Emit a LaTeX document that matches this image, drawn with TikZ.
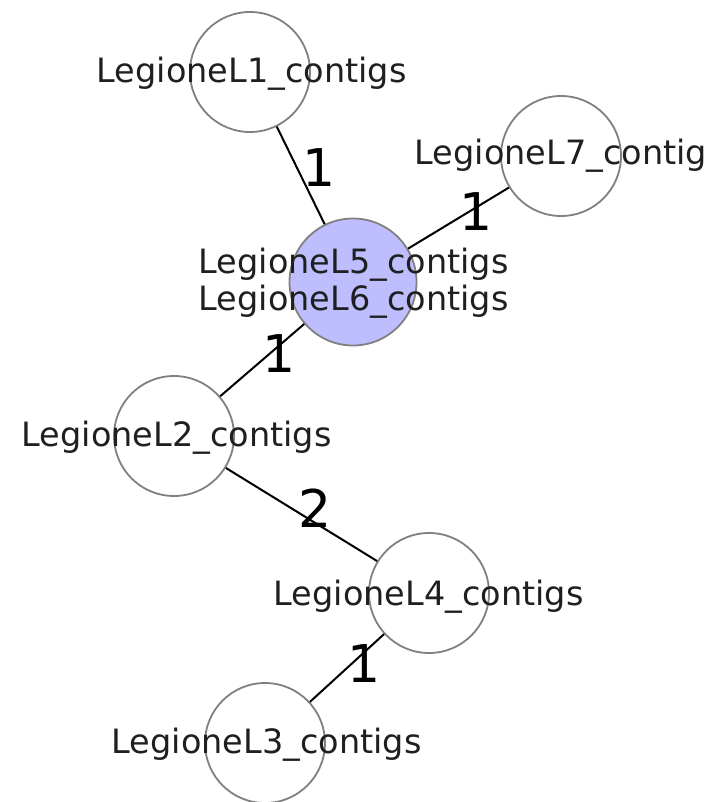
\documentclass[tikz,border=0pt]{standalone}
\usepackage{fontspec}
\setmainfont{DejaVu Sans}
\definecolor{nodeborder}{RGB}{128,128,128}
\definecolor{bluefill}{RGB}{190,190,255}
\begin{document}
\begin{tikzpicture}[x=1pt,y=-1pt,
  vert/.style={circle,draw=nodeborder,line width=1.8pt,fill=white,minimum size=120pt,inner sep=0pt},
  bigvert/.style={vert,minimum size=127pt,fill=bluefill},
  edge/.style={line width=2pt,black},
  vlabel/.style={anchor=base,inner sep=0pt,font=\fontsize{33.5}{37}\selectfont,text=black!88},
  elabel/.style={anchor=base,inner sep=0pt,font=\fontsize{52}{60}\selectfont,text=black}]
\useasboundingbox (0,0) rectangle (707,802);
\clip (0,0) rectangle (707,802);
\fill[white] (0,0) rectangle (707,802);
% vertices
\node[vert] (n1) at (250,72) {};
\node[vert] (n7) at (561,156) {};
\node[bigvert] (n5) at (353,282) {};
\node[vert] (n2) at (174,436) {};
\node[vert] (n4) at (429,593) {};
\node[vert] (n3) at (265,743) {};
% edges
\draw[edge] (n1) -- (n5);
\draw[edge] (n7) -- (n5);
\draw[edge] (n5) -- (n2);
\draw[edge] (n2) -- (n4);
\draw[edge] (n4) -- (n3);
% vertex labels
\node[vlabel] (t1) at (251.7,83) {LegioneL1\_contigs};
\node[vlabel] (t7) at (569.7,165) {LegioneL7\_contigs};
\node[vlabel] (t5a) at (353.7,273) {LegioneL5\_contigs};
\node[vlabel] (t5b) at (353.7,310) {LegioneL6\_contigs};
\node[vlabel] (t2) at (176.7,446) {LegioneL2\_contigs};
\node[vlabel] (t4) at (428.7,605) {LegioneL4\_contigs};
\node[vlabel] (t3) at (266.7,753) {LegioneL3\_contigs};
% edge labels
\node[elabel] (w15) at (319.5,187) {1};
\node[elabel] (w75) at (476.5,230) {1};
\node[elabel] (w52) at (279.5,372) {1};
\node[elabel] (w24) at (315.5,527) {2};
\node[elabel] (w43) at (364.5,682) {1};
\end{tikzpicture}
\end{document}
